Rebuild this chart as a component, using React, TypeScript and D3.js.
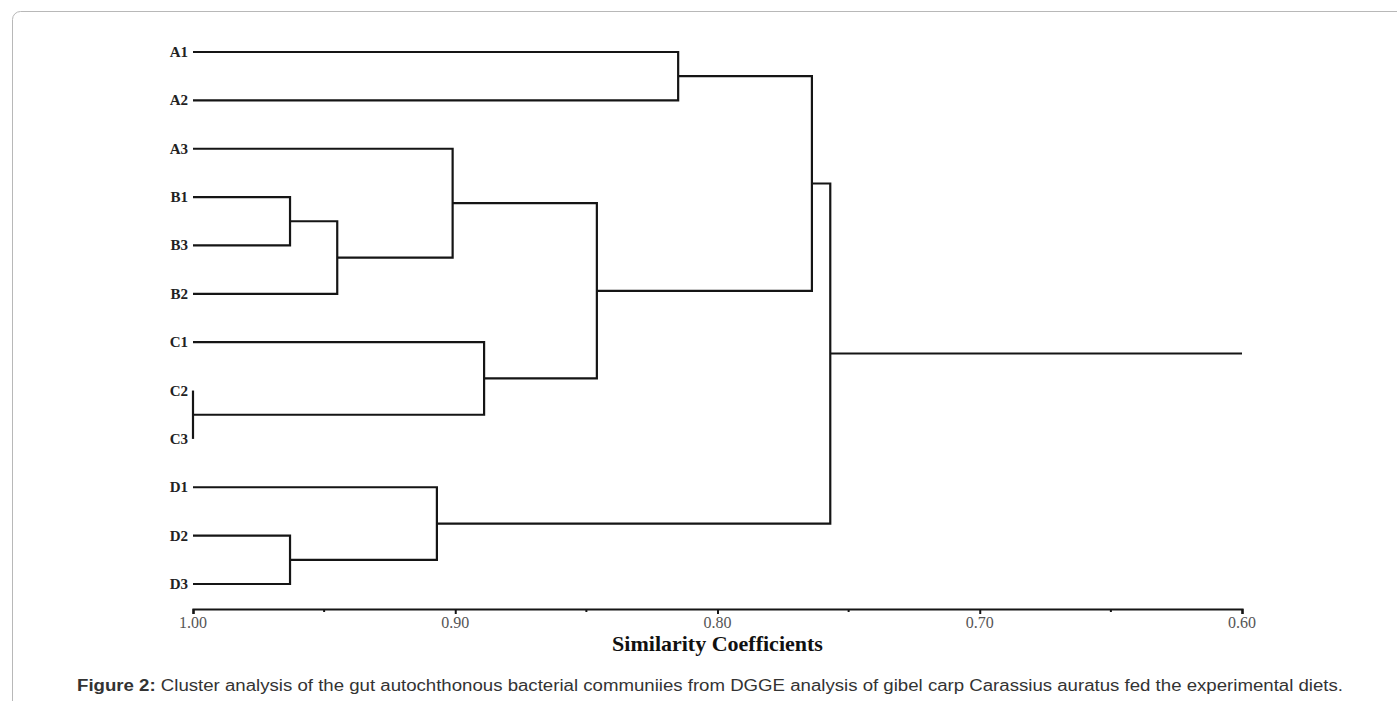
import React, { useEffect, useRef } from 'react';
import * as d3 from 'd3';

// leaf order top to bottom
const leafLabels = ['A1', 'A2', 'A3', 'B1', 'B3', 'B2', 'C1', 'C2', 'C3', 'D1', 'D2', 'D3'];

// merge steps: [id, left child, right child, similarity]
const merges: [string, string, string, number][] = [
  ['C2C3', 'C2', 'C3', 1.0],
  ['B1B3', 'B1', 'B3', 0.963],
  ['D2D3', 'D2', 'D3', 0.963],
  ['Bgrp', 'B1B3', 'B2', 0.945],
  ['Dgrp', 'D1', 'D2D3', 0.907],
  ['ABgrp', 'A3', 'Bgrp', 0.901],
  ['Cgrp', 'C1', 'C2C3', 0.889],
  ['ABC', 'ABgrp', 'Cgrp', 0.846],
  ['A12', 'A1', 'A2', 0.815],
  ['AABC', 'A12', 'ABC', 0.764],
  ['root', 'AABC', 'Dgrp', 0.757],
];

const majorTicks = [1.0, 0.9, 0.8, 0.7, 0.6];
const minorTicks = [0.95, 0.85, 0.75, 0.65];

const axisTitle = 'Similarity Coefficients';
const captionBold = 'Figure 2:';
const captionText =
  ' Cluster analysis of the gut autochthonous bacterial communiies from DGGE analysis of gibel carp Carassius auratus fed the experimental diets.';

type Node = { name: string; sim: number; children?: Node[] };

const buildTree = (): Node => {
  const nodes: Record<string, Node> = {};
  leafLabels.forEach(l => (nodes[l] = { name: l, sim: 1.0 }));
  merges.forEach(([id, a, b, s]) => {
    nodes[id] = { name: id, sim: s, children: [nodes[a], nodes[b]] };
  });
  return nodes['root'];
};

const serif = '"Liberation Serif", "Times New Roman", serif';

const App = () => {
  const ref = useRef<SVGSVGElement>(null);

  useEffect(() => {
    const svg = d3.select(ref.current);
    svg.selectAll('*').remove();

    // frame
    svg.append('rect')
      .attr('x', 12.5)
      .attr('y', 11.5)
      .attr('width', 1420)
      .attr('height', 740)
      .attr('rx', 8)
      .attr('fill', 'none')
      .attr('stroke', '#b8b8b8')
      .attr('stroke-width', 1);

    const x = d3.scaleLinear().domain([1.0, 0.6]).range([193, 1242]);
    const y = d3.scalePoint<string>().domain(leafLabels).range([52, 584]);

    const root = d3.hierarchy<Node>(buildTree());
    const yPos = new Map<any, number>();
    root.eachAfter(n => {
      if (!n.children) yPos.set(n, y(n.data.name) as number);
      else yPos.set(n, d3.mean(n.children, c => yPos.get(c)) as number);
    });

    const g = svg.append('g');

    // elbows
    root.each(n => {
      if (!n.children) return;
      const [c1, c2] = n.children;
      const px = x(n.data.sim);
      const p = d3.path();
      p.moveTo(x(c1.data.sim), yPos.get(c1)!);
      p.lineTo(px, yPos.get(c1)!);
      p.lineTo(px, yPos.get(c2)!);
      p.lineTo(x(c2.data.sim), yPos.get(c2)!);
      g.append('path')
        .attr('d', p.toString())
        .attr('fill', 'none')
        .attr('stroke', '#151515')
        .attr('stroke-width', 2.2);
    });

    // root stem
    g.append('line')
      .attr('x1', x(root.data.sim))
      .attr('x2', x(0.6))
      .attr('y1', yPos.get(root)!)
      .attr('y2', yPos.get(root)!)
      .attr('stroke', '#151515')
      .attr('stroke-width', 2.2);

    // leaf labels
    g.selectAll('text.leaf')
      .data(leafLabels)
      .join('text')
      .attr('class', 'leaf')
      .attr('x', 188)
      .attr('y', d => (y(d) as number) + 5)
      .attr('text-anchor', 'end')
      .style('font-family', serif)
      .style('font-weight', 'bold')
      .style('font-size', '15px')
      .attr('fill', '#222')
      .text(d => d);

    // axis (labels drawn separately below)
    const axisY = 609;
    const axis = svg.append('g')
      .attr('transform', `translate(0,${axisY})`)
      .call(d3.axisBottom(x).tickValues(majorTicks).tickFormat(() => '').tickSize(5).tickSizeOuter(5));
    axis.select('.domain').attr('stroke', '#151515').attr('stroke-width', 2.2);
    axis.selectAll('.tick line').attr('stroke', '#151515').attr('stroke-width', 2);

    svg.append('g')
      .selectAll('text')
      .data(majorTicks)
      .join('text')
      .attr('x', d => x(d))
      .attr('y', axisY + 19)
      .attr('text-anchor', 'middle')
      .attr('font-family', serif)
      .attr('font-size', 16)
      .attr('fill', '#555')
      .text(d => d3.format('.2f')(d));

    svg.append('g')
      .selectAll('line')
      .data(minorTicks)
      .join('line')
      .attr('x1', d => x(d))
      .attr('x2', d => x(d))
      .attr('y1', axisY)
      .attr('y2', axisY + 3)
      .attr('stroke', '#151515')
      .attr('stroke-width', 2);

    svg.append('text')
      .attr('x', (x(1.0) + x(0.6)) / 2)
      .attr('y', 651)
      .attr('text-anchor', 'middle')
      .style('font-family', serif)
      .style('font-weight', 'bold')
      .style('font-size', '22px')
      .attr('fill', '#111')
      .text(axisTitle);

    const cap = svg.append('text')
      .attr('x', 77)
      .attr('y', 691)
      .attr('textLength', 1266)
      .attr('lengthAdjust', 'spacingAndGlyphs')
      .style('font-family', '"Liberation Sans", Arial, sans-serif')
      .style('font-size', '16px')
      .attr('fill', '#333');
    cap.append('tspan').style('font-weight', 'bold').text(captionBold);
    cap.append('tspan').text(captionText);
  }, []);

  return (
    <svg
      ref={ref}
      width={1397}
      height={701}
      style={{ position: 'absolute', left: 0, top: 0, display: 'block', background: '#fff' }}
    />
  );
};

export default App;
